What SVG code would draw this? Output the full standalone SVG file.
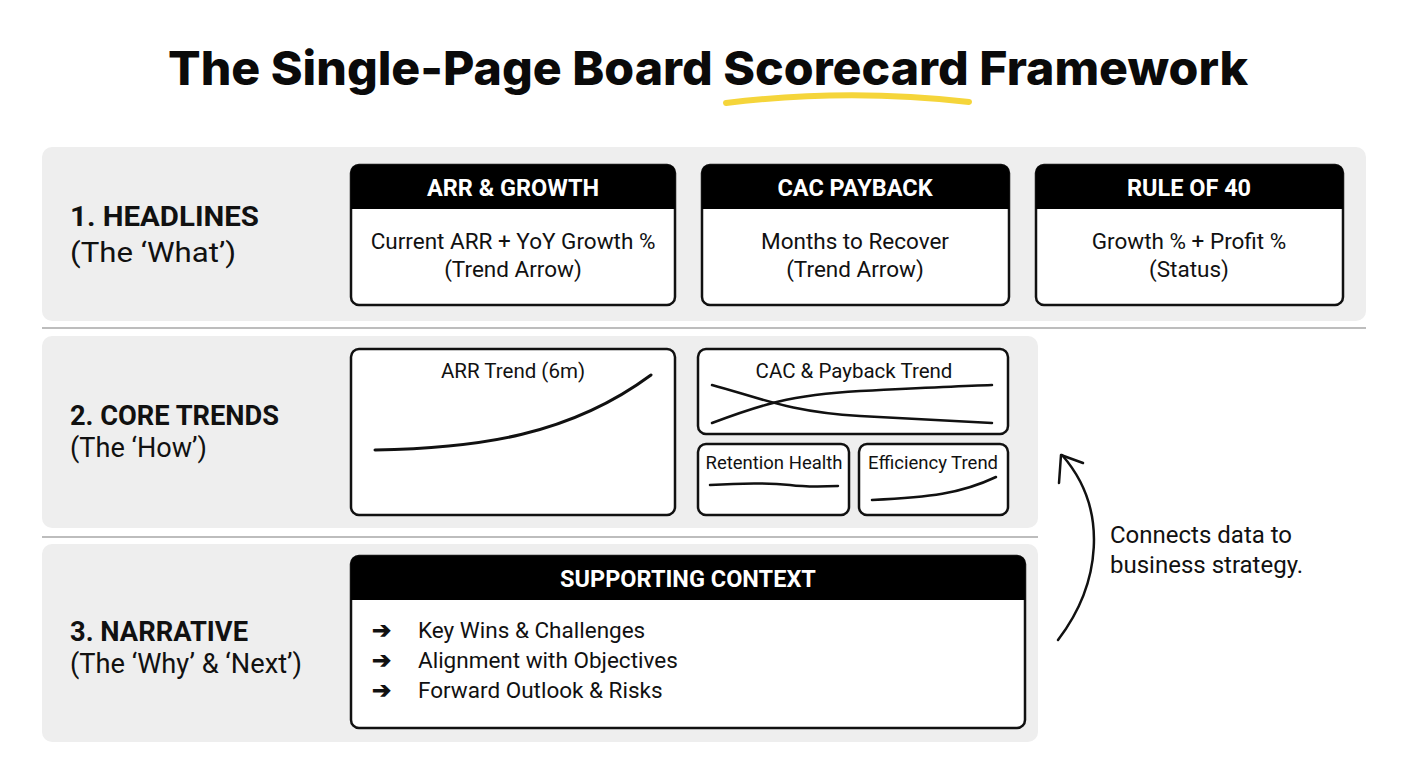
<svg xmlns="http://www.w3.org/2000/svg" width="1408" height="768" viewBox="0 0 1408 768">
<defs>
<style>
.band{fill:#eeeeee;}
.sep{stroke:#bdbdbd;stroke-width:2;}
.card{fill:#ffffff;stroke:#111111;stroke-width:2.5;}
.hdr{fill:#000000;}
.lbl{font-family:Roboto,"Liberation Sans",sans-serif;font-size:27px;fill:#111;}
.lblb{font-family:Roboto,"Liberation Sans",sans-serif;font-size:27px;font-weight:700;fill:#111;}
.ht{font-family:Roboto,"Liberation Sans",sans-serif;font-size:23.5px;font-weight:700;fill:#fff;text-anchor:middle;}
.bt{font-family:Roboto,"Liberation Sans",sans-serif;font-size:22.5px;fill:#111;text-anchor:middle;}
.st{font-family:Roboto,"Liberation Sans",sans-serif;font-size:20.5px;fill:#111;text-anchor:middle;}
.sm{font-family:Roboto,"Liberation Sans",sans-serif;font-size:18.5px;fill:#111;text-anchor:middle;}
.li{font-family:Roboto,"Liberation Sans",sans-serif;font-size:22.5px;fill:#111;}
.nt{font-family:Roboto,"Liberation Sans",sans-serif;font-size:24px;fill:#111;}
.curve{fill:none;stroke:#111;stroke-width:3;stroke-linecap:round;}
.thin{fill:none;stroke:#111;stroke-width:2.5;stroke-linecap:round;}
</style>
</defs>
<rect width="1408" height="768" fill="#ffffff"/>
<g id="title">
<text x="708" y="85" font-family="Inter,'Liberation Sans',sans-serif" font-size="47" font-weight="800" text-anchor="middle" textLength="1080" lengthAdjust="spacingAndGlyphs" fill="#0a0a0a">The Single-Page Board Scorecard Framework</text>
<path d="M726,103 Q848,88 969,102" fill="none" stroke="#f5d53a" stroke-width="6" stroke-linecap="round"/>
</g>
<g id="bands">
<rect class="band" x="42" y="147" width="1324" height="174" rx="10"/>
<line class="sep" x1="42" y1="328" x2="1366" y2="328"/>
<rect class="band" x="42" y="336" width="996" height="192" rx="10"/>
<line class="sep" x1="42" y1="537" x2="1038" y2="537"/>
<rect class="band" x="42" y="544" width="996" height="198" rx="10"/>
</g>
<g id="label-headlines">
<text class="lblb" x="70" y="226" textLength="189" lengthAdjust="spacingAndGlyphs">1. HEADLINES</text>
<text class="lbl" x="70" y="262" textLength="166" lengthAdjust="spacingAndGlyphs">(The ‘What’)</text>
</g>
<g id="label-trends">
<text class="lblb" x="70" y="425" textLength="209" lengthAdjust="spacingAndGlyphs">2. CORE TRENDS</text>
<text class="lbl" x="70" y="457" textLength="137" lengthAdjust="spacingAndGlyphs">(The ‘How’)</text>
</g>
<g id="label-narrative">
<text class="lblb" x="70" y="641" textLength="178" lengthAdjust="spacingAndGlyphs">3. NARRATIVE</text>
<text class="lbl" x="70" y="673" textLength="232" lengthAdjust="spacingAndGlyphs">(The ‘Why’ &amp; ‘Next’)</text>
</g>
<g id="card-arr">
<rect class="card" x="351" y="165" width="324" height="140" rx="8"/>
<path class="hdr" d="M359,165 H667 Q675,165 675,173 V209 H351 V173 Q351,165 359,165 Z"/>
<text class="ht" x="513" y="196">ARR &amp; GROWTH</text>
<text class="bt" x="513" y="249">Current ARR + YoY Growth %</text>
<text class="bt" x="513" y="277">(Trend Arrow)</text>
</g>
<g id="card-cac">
<rect class="card" x="702" y="165" width="307" height="140" rx="8"/>
<path class="hdr" d="M710,165 H1001 Q1009,165 1009,173 V209 H702 V173 Q702,165 710,165 Z"/>
<text class="ht" x="855" y="196">CAC PAYBACK</text>
<text class="bt" x="855" y="249">Months to Recover</text>
<text class="bt" x="855" y="277">(Trend Arrow)</text>
</g>
<g id="card-rule40">
<rect class="card" x="1036" y="165" width="307" height="140" rx="8"/>
<path class="hdr" d="M1044,165 H1335 Q1343,165 1343,173 V209 H1036 V173 Q1036,165 1044,165 Z"/>
<text class="ht" x="1189" y="196">RULE OF 40</text>
<text class="bt" x="1189" y="249">Growth % + Profit %</text>
<text class="bt" x="1189" y="277">(Status)</text>
</g>
<g id="chart-arr">
<rect class="card" x="351" y="349" width="324" height="166" rx="8"/>
<text class="st" x="513" y="378">ARR Trend (6m)</text>
<path class="curve" d="M375,450 C480,448 570,435 651,375"/>
</g>
<g id="chart-cac">
<rect class="card" x="698" y="349" width="310" height="85" rx="8"/>
<text class="st" x="854" y="378">CAC &amp; Payback Trend</text>
<path class="thin" d="M712,385 C760,398 790,412 860,416 C920,419 960,421 992,423"/>
<path class="thin" d="M712,423 C760,405 790,395 860,391 C920,388 960,386 992,385"/>
</g>
<g id="chart-retention">
<rect class="card" x="698" y="444" width="151" height="71" rx="8"/>
<text class="sm" x="774" y="469">Retention Health</text>
<path class="thin" d="M710,485 C740,483 770,483 790,485 C805,487 815,487 838,486"/>
</g>
<g id="chart-efficiency">
<rect class="card" x="859" y="444" width="149" height="71" rx="8"/>
<text class="sm" x="933" y="469">Efficiency Trend</text>
<path class="thin" d="M872,500 C930,497 960,494 996,477"/>
</g>
<g id="card-context">
<rect class="card" x="351" y="556" width="674" height="172" rx="8"/>
<path class="hdr" d="M359,556 H1017 Q1025,556 1025,564 V600 H351 V564 Q351,556 359,556 Z"/>
<text class="ht" x="688" y="587">SUPPORTING CONTEXT</text>
<text class="li" x="372" y="638" font-weight="700">➔</text>
<text class="li" x="418" y="638">Key Wins &amp; Challenges</text>
<text class="li" x="372" y="668" font-weight="700">➔</text>
<text class="li" x="418" y="668">Alignment with Objectives</text>
<text class="li" x="372" y="698" font-weight="700">➔</text>
<text class="li" x="418" y="698">Forward Outlook &amp; Risks</text>
</g>
<g id="connectors">
<path d="M1058,640 C1100,585 1110,510 1062,455" fill="none" stroke="#111" stroke-width="2.5" stroke-linecap="round"/>
<path d="M1059,483 L1061,455 L1083,463" fill="none" stroke="#111" stroke-width="2.5" stroke-linecap="round" stroke-linejoin="round"/>
</g>
<g id="note">
<text class="nt" x="1110" y="543">Connects data to</text>
<text class="nt" x="1110" y="573">business strategy.</text>
</g>
</svg>
